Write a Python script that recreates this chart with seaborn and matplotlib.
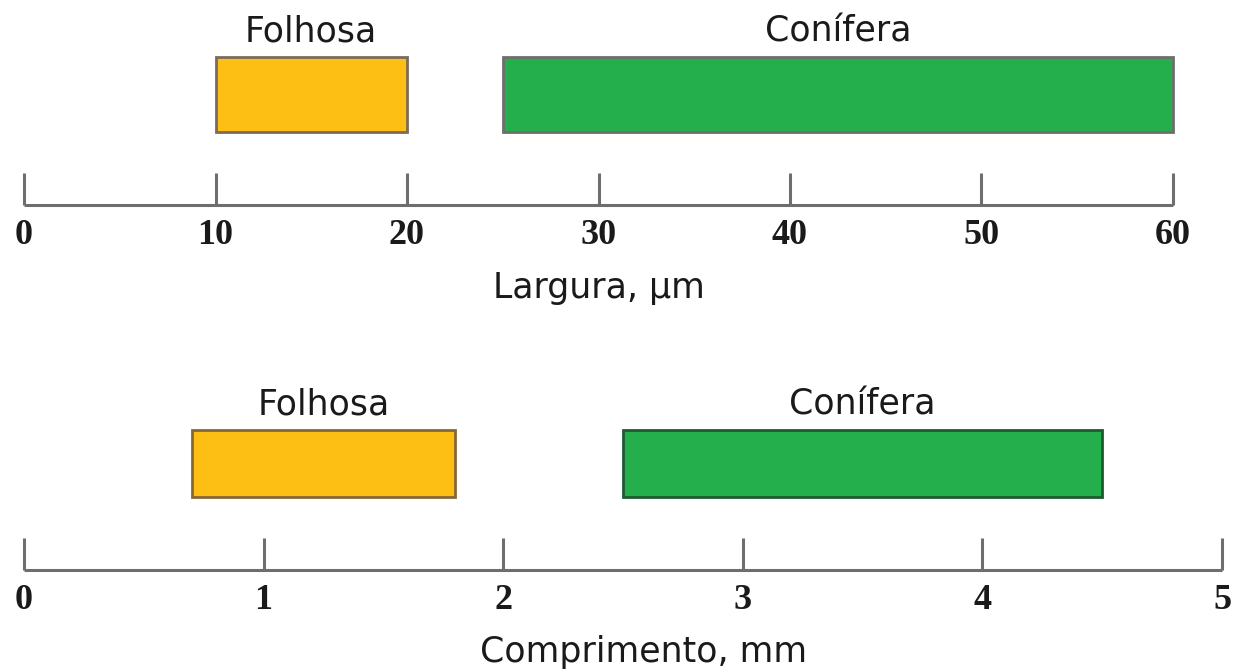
import matplotlib
matplotlib.use("Agg")
import matplotlib.pyplot as plt
import seaborn as sns

# ---- data ----
species = ["Folhosa", "Conífera"]
width_start = [10, 25]      # Largura, µm
width_end = [20, 60]
length_start = [0.7, 2.5]   # Comprimento, mm
length_end = [1.8, 4.5]
width_ticks = [0, 10, 20, 30, 40, 50, 60]
length_ticks = [0, 1, 2, 3, 4, 5]
width_label = "Largura, µm"
length_label = "Comprimento, mm"

# ---- style ----
sns.set_theme(style="white")
plt.rcParams["font.family"] = ["DejaVu Sans"]
fill_colors = ["#FDBF14", "#25AE4C"]
edge_top = ["#7a6b5c", "#6e6e6e"]
edge_bot = ["#86673a", "#1d5a30"]
axis_color = "#6e6e6e"
text_color = "#1a1a1a"

fig = plt.figure(figsize=(12.4, 6.7), dpi=100)
ax1 = fig.add_axes([24 / 1240, 1 - 205 / 670, 1149 / 1240, 165 / 670])
ax2 = fig.add_axes([24 / 1240, 1 - 570 / 670, 1198 / 1240, 170 / 670])


def draw(ax, starts, ends, edges, lw, ticks, label, ylim, label_offset, xlabel_xy):
    for name, s, e, fc, ec in zip(species, starts, ends, fill_colors, edges):
        sns.barplot(x=[e - s], y=["row"], orient="h", left=s, width=0.8,
                    color=fc, edgecolor=ec, linewidth=lw, errorbar=None,
                    saturation=1, ax=ax)
        ax.annotate(name, xy=((s + e) / 2, -0.4), xytext=(0, label_offset),
                    textcoords="offset points", ha="center", va="baseline",
                    fontsize=25, color=text_color, annotation_clip=False)
    ax.set_xlim(ticks[0], ticks[-1])
    ax.set_ylim(*ylim)
    ax.set_xticks(ticks)
    ax.set_xticklabels([str(t) for t in ticks], fontfamily="Liberation Serif",
                       fontweight="bold", fontsize=26, color=text_color)
    ax.set_yticks([])
    ax.set_ylabel("")
    for sp in ["left", "right", "top"]:
        ax.spines[sp].set_visible(False)
    ax.spines["bottom"].set_color(axis_color)
    ax.spines["bottom"].set_linewidth(2.2)
    ax.spines["bottom"].set_capstyle("butt")
    ax.tick_params(axis="x", direction="in", length=23, width=2.2,
                   color=axis_color, pad=10, bottom=True)
    ax.set_xlabel(label, fontsize=25, color=text_color, va="baseline")
    ax.xaxis.set_label_coords(*xlabel_xy)
    ax.patch.set_alpha(0)
    for p in ax.patches:
        p.set_clip_on(False)


draw(ax1, width_start, width_end, edge_top, 2.0, width_ticks, width_label,
     (1.1787, -0.5813), 11, (0.5, -(298 - 205) / 165))
draw(ax2, length_start, length_end, edge_bot, 2.0, length_ticks, length_label,
     (1.2716, -0.7582), 11, (0.517, -(662 - 570) / 170))

fig.savefig("out.png", dpi=100, facecolor="white")
